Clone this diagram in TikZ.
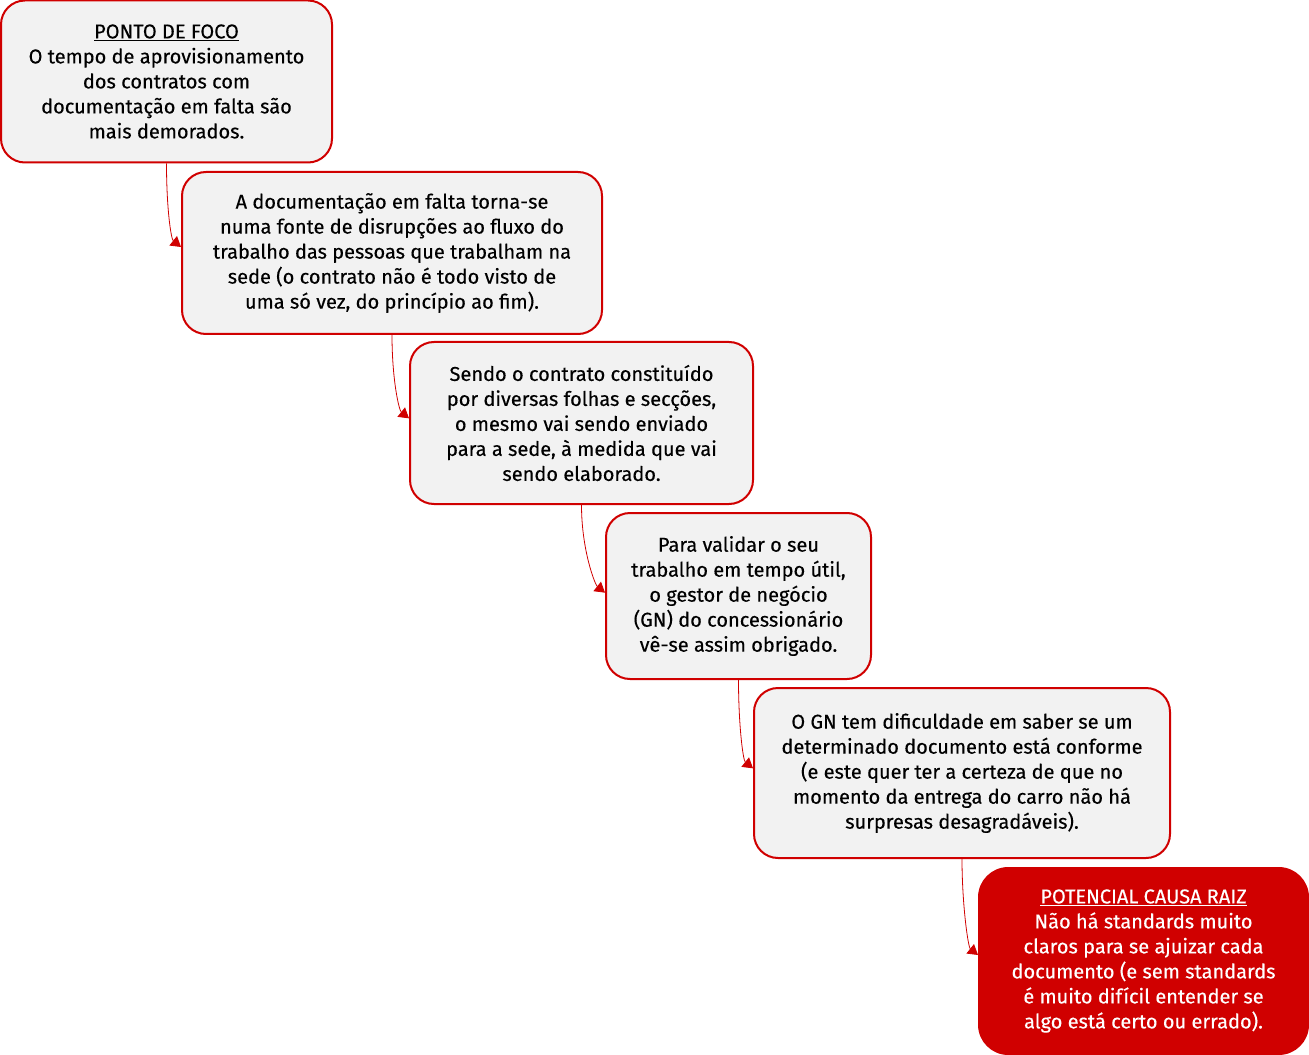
\documentclass[tikz,border=0pt]{standalone}
\usepackage{fontspec}
\setmainfont{Fira Sans}[UprightFeatures={FakeBold=0.35}]
\usetikzlibrary{arrows.meta}
\definecolor{myred}{HTML}{D00000}
\definecolor{myfill}{HTML}{F2F2F2}
\tikzset{
  box/.style={draw=myred, fill=myfill, line width=1.5pt, rounded corners=18pt, inner sep=0pt, align=center, font=\fontsize{15}{18.75}\selectfont, text=black},
  rootbox/.style={box, fill=myred, text=white, rounded corners=22pt},
  conn/.style={draw=myred, line width=0.6pt, -{Triangle[length=7.5pt,width=9pt]}},
}
\begin{document}
\begin{tikzpicture}[x=0.75pt,y=-0.75pt]
\useasboundingbox (0,0) rectangle (1309,1055);
\node[box, minimum width=248.25pt, minimum height=121.5pt] (n1) at (166.5,81.5)
  {\underline{PONTO DE FOCO}\\O tempo de aprovisionamento\\dos contratos com\\documentação em falta são\\mais demorados.};
\node[box, minimum width=315pt, minimum height=121.5pt] (n2) at (392,253)
  {A documentação em falta torna-se\\numa fonte de disrupções ao fluxo do\\trabalho das pessoas que trabalham na\\sede (o contrato não é todo visto de\\uma só vez, do princípio ao fim).};
\node[box, minimum width=257.25pt, minimum height=121.5pt] (n3) at (581.5,423)
  {Sendo o contrato constituído\\por diversas folhas e secções,\\o mesmo vai sendo enviado\\para a sede, à medida que vai\\sendo elaborado.};
\node[box, minimum width=198.75pt, minimum height=124.5pt] (n4) at (738.5,596)
  {Para validar o seu\\trabalho em tempo útil,\\o gestor de negócio\\(GN) do concessionário\\vê-se assim obrigado.};
\node[box, minimum width=312pt, minimum height=127.5pt] (n5) at (962,773)
  {O GN tem dificuldade em saber se um\\determinado documento está conforme\\(e este quer ter a certeza de que no\\momento da entrega do carro não há\\surpresas desagradáveis).};
\node[rootbox, minimum width=246.75pt, minimum height=139.5pt] (n6) at (1143.5,961)
  {\underline{POTENCIAL CAUSA RAIZ}\\Não há standards muito\\claros para se ajuizar cada\\documento (e sem standards\\é muito difícil entender se\\algo está certo ou errado).};
\draw[conn] (n1.south) .. controls +(0,45) and +(-10,-8) .. ([yshift=4.5pt]n2.west);
\draw[conn] (n2.south) .. controls +(0,45) and +(-10,-8) .. ([yshift=3.5pt]n3.west);
\draw[conn] (n3.south) .. controls +(0,45) and +(-10,-8) .. ([yshift=2.5pt]n4.west);
\draw[conn] (n4.south) .. controls +(0,45) and +(-10,-8) .. ([yshift=3.5pt]n5.west);
\draw[conn] (n5.south) .. controls +(0,45) and +(-10,-8) .. ([yshift=4.5pt]n6.west);
\end{tikzpicture}
\end{document}
